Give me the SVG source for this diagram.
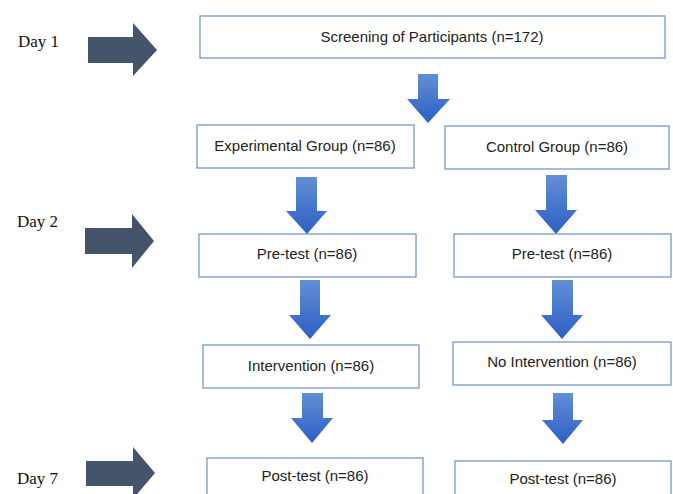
<svg xmlns="http://www.w3.org/2000/svg" width="673" height="494" viewBox="0 0 673 494">
<defs>
<linearGradient id="blueGrad" x1="0" y1="0" x2="0" y2="1">
<stop offset="0" stop-color="#628fd6"/>
<stop offset="1" stop-color="#2c5fc4"/>
</linearGradient>
<style>
.box{fill:#ffffff;stroke:#6d8fc4;stroke-width:1.2}
.lbl{font-family:"Liberation Sans",Arial,sans-serif;font-size:15px;fill:#222222;text-anchor:middle}
.day{font-family:"Liberation Serif","Times New Roman",serif;font-size:17px;fill:#111111}
.dark{fill:#44546a}
.blue{fill:url(#blueGrad)}
</style>
</defs>
<rect width="673" height="494" fill="#ffffff"/>

<g id="day1">
<text class="day" x="18" y="47">Day 1</text>
<path class="dark" d="M88,37 H133 V23 L157,50 L133,76 V63 H88 Z"/>
</g>
<g id="day2">
<text class="day" x="17" y="227">Day 2</text>
<path class="dark" d="M85,228 H132 V214 L154,241 L132,268 V254 H85 Z"/>
</g>
<g id="day7">
<text class="day" x="17" y="484">Day 7</text>
<path class="dark" d="M86,461 H133 V447 L155,473 L133,499 V486 H86 Z"/>
</g>

<g id="screening">
<rect class="box" x="200" y="16" width="465" height="42"/>
<text class="lbl" x="432" y="42">Screening of Participants (n=172)</text>
</g>
<g id="experimental">
<rect class="box" x="197" y="125" width="217" height="43"/>
<text class="lbl" x="305" y="151">Experimental Group (n=86)</text>
</g>
<g id="control">
<rect class="box" x="445" y="126" width="224" height="43"/>
<text class="lbl" x="557" y="152">Control Group (n=86)</text>
</g>
<g id="pretest-exp">
<rect class="box" x="199" y="234" width="217" height="43"/>
<text class="lbl" x="307" y="259">Pre-test (n=86)</text>
</g>
<g id="pretest-ctrl">
<rect class="box" x="454" y="234" width="217" height="43"/>
<text class="lbl" x="562" y="259">Pre-test (n=86)</text>
</g>
<g id="intervention">
<rect class="box" x="203" y="345" width="216" height="43"/>
<text class="lbl" x="311" y="371">Intervention (n=86)</text>
</g>
<g id="no-intervention">
<rect class="box" x="453" y="342" width="218" height="43"/>
<text class="lbl" x="562" y="367">No Intervention (n=86)</text>
</g>
<g id="posttest-exp">
<rect class="box" x="207" y="458" width="216" height="43"/>
<text class="lbl" x="315" y="481">Post-test (n=86)</text>
</g>
<g id="posttest-ctrl">
<rect class="box" x="455" y="461" width="216" height="43"/>
<text class="lbl" x="563" y="484">Post-test (n=86)</text>
</g>

<g id="connectors">
<path class="blue" d="M418,74 H438 V99 H450 L428,123 L407,99 H418 Z"/>
<path class="blue" d="M296,177 H317 V211 H327 L307,234 L286,211 H296 Z"/>
<path class="blue" d="M546,175 H567 V210 H577 L556,234 L535,210 H546 Z"/>
<path class="blue" d="M300,280 H320 V315 H331 L310,339 L289,315 H300 Z"/>
<path class="blue" d="M552,280 H573 V315 H583 L562,339 L541,315 H552 Z"/>
<path class="blue" d="M302,393 H323 V418 H333 L312,443 L291,418 H302 Z"/>
<path class="blue" d="M553,393 H573 V420 H583 L563,444 L542,420 H553 Z"/>
</g>
</svg>
